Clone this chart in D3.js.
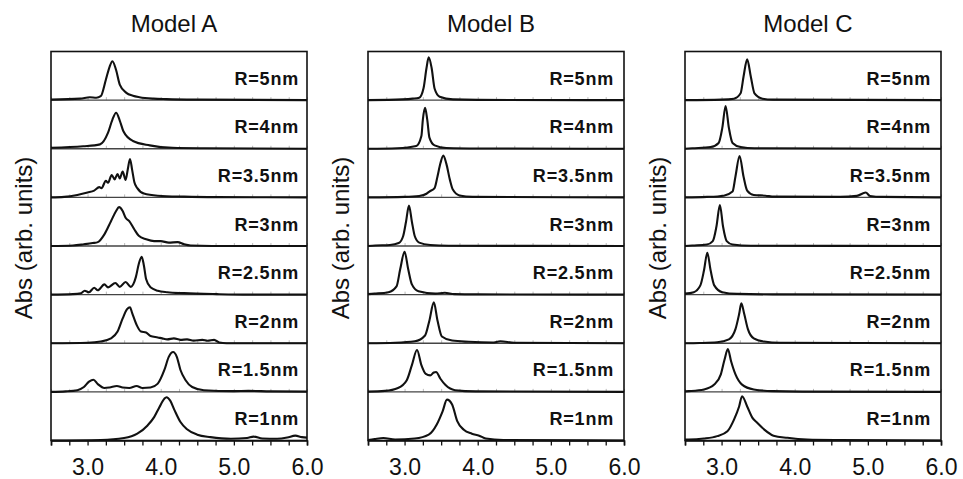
<!DOCTYPE html>
<html>
<head>
<meta charset="utf-8">
<script src="https://cdn.jsdelivr.net/npm/d3@7/dist/d3.min.js"></script>
<style>
  html, body { margin: 0; padding: 0; background: #fff; }
  svg { display: block; }
  text { font-family: "Liberation Sans", Arial, Helvetica, sans-serif; fill: #111; }
</style>
</head>
<body>
<svg id="chart" width="963" height="479"></svg>
<script>
// ---- Panel titles, row labels and axis labels ----
const modelTitles = ["Model A", "Model B", "Model C"];
const radiusLabels = ["R=5nm", "R=4nm", "R=3.5nm", "R=3nm", "R=2.5nm", "R=2nm", "R=1.5nm", "R=1nm"];
const xTickLabels = [3.0, 4.0, 5.0, 6.0];
const yAxisTitle = "Abs (arb. units)";

// ---- Absorption spectra: [energy (eV), normalised absorbance] ----
// Model A
const specA_5nm = [[2.5,0.01],[2.9,0.03],[3.03,0.06],[3.12,0.05],[3.18,0.08],[3.25,0.42],[3.30,0.68],[3.34,0.80],[3.39,0.62],[3.44,0.32],[3.53,0.15],[3.62,0.09],[3.71,0.06],[3.9,0.03],[4.08,0.02],[4.5,0.01],[6.0,0.0]];
const specA_4nm = [[2.5,0.02],[2.94,0.05],[3.17,0.09],[3.28,0.33],[3.34,0.60],[3.39,0.74],[3.44,0.58],[3.49,0.36],[3.62,0.16],[3.85,0.07],[4.16,0.02],[4.6,0.01],[6.0,0.0]];
const specA_35nm = [[2.5,0.0],[2.68,0.01],[2.86,0.05],[3.0,0.10],[3.09,0.14],[3.16,0.21],[3.19,0.19],[3.25,0.34],[3.28,0.30],[3.33,0.46],[3.37,0.37],[3.41,0.48],[3.44,0.39],[3.48,0.53],[3.52,0.36],[3.55,0.58],[3.58,0.79],[3.61,0.56],[3.64,0.31],[3.68,0.19],[3.77,0.08],[3.96,0.035],[4.32,0.015],[4.77,0.005],[6.0,0.0]];
const specA_3nm = [[2.5,0.0],[2.8,0.01],[2.95,0.035],[3.07,0.06],[3.14,0.08],[3.23,0.24],[3.32,0.51],[3.39,0.72],[3.43,0.80],[3.48,0.72],[3.52,0.58],[3.57,0.51],[3.64,0.34],[3.70,0.21],[3.80,0.14],[3.91,0.10],[4.0,0.10],[4.11,0.07],[4.23,0.08],[4.32,0.035],[4.41,0.01],[4.7,0.0],[6.0,0.0]];
const specA_25nm = [[2.5,0.0],[2.8,0.01],[2.91,0.03],[2.96,0.08],[3.02,0.05],[3.09,0.14],[3.14,0.09],[3.23,0.21],[3.28,0.15],[3.38,0.24],[3.44,0.16],[3.52,0.26],[3.59,0.16],[3.66,0.36],[3.70,0.63],[3.74,0.78],[3.77,0.60],[3.80,0.32],[3.86,0.15],[3.96,0.08],[4.09,0.05],[4.32,0.03],[4.77,0.01],[5.2,0.0],[6.0,0.0]];
const specA_2nm = [[2.5,0.0],[3.0,0.01],[3.18,0.035],[3.32,0.10],[3.41,0.24],[3.48,0.51],[3.54,0.70],[3.58,0.74],[3.61,0.62],[3.67,0.38],[3.73,0.24],[3.80,0.22],[3.86,0.15],[3.96,0.12],[4.02,0.10],[4.09,0.08],[4.18,0.10],[4.27,0.07],[4.36,0.08],[4.45,0.055],[4.57,0.07],[4.64,0.05],[4.73,0.07],[4.80,0.015],[4.9,0.0],[6.0,0.0]];
const specA_15nm = [[2.5,0.0],[2.7,0.01],[2.86,0.035],[2.95,0.10],[3.02,0.21],[3.08,0.25],[3.14,0.16],[3.23,0.08],[3.30,0.09],[3.40,0.12],[3.48,0.09],[3.57,0.08],[3.67,0.12],[3.75,0.08],[3.86,0.09],[3.96,0.17],[4.05,0.45],[4.11,0.72],[4.17,0.82],[4.22,0.72],[4.27,0.45],[4.34,0.24],[4.43,0.10],[4.59,0.035],[5.0,0.015],[5.2,0.02],[5.5,0.01],[6.0,0.005]];
const specA_1nm = [[2.5,0.0],[3.18,0.01],[3.5,0.05],[3.68,0.14],[3.82,0.31],[3.91,0.48],[3.98,0.68],[4.05,0.86],[4.08,0.89],[4.13,0.82],[4.19,0.62],[4.27,0.38],[4.36,0.23],[4.50,0.12],[4.68,0.07],[4.96,0.035],[5.18,0.05],[5.27,0.08],[5.39,0.04],[5.59,0.035],[5.73,0.06],[5.84,0.10],[5.93,0.07],[6.0,0.06]];
// Model B
const specB_5nm = [[2.5,0.0],[2.97,0.015],[3.11,0.03],[3.20,0.05],[3.26,0.25],[3.30,0.66],[3.33,0.88],[3.37,0.66],[3.41,0.24],[3.48,0.07],[3.66,0.015],[4.0,0.005],[6.0,0.0]];
const specB_4nm = [[2.5,0.0],[2.9,0.01],[3.16,0.055],[3.23,0.26],[3.25,0.60],[3.28,0.84],[3.31,0.60],[3.34,0.23],[3.41,0.07],[3.57,0.015],[4.0,0.005],[6.0,0.0]];
const specB_35nm = [[2.5,0.0],[3.0,0.01],[3.20,0.03],[3.30,0.075],[3.34,0.12],[3.41,0.19],[3.45,0.43],[3.49,0.70],[3.53,0.86],[3.57,0.70],[3.62,0.36],[3.66,0.16],[3.75,0.04],[3.93,0.01],[6.0,0.0]];
const specB_3nm = [[2.5,0.0],[2.6,0.01],[2.80,0.02],[2.92,0.06],[2.98,0.20],[3.02,0.50],[3.06,0.83],[3.10,0.50],[3.14,0.20],[3.20,0.07],[3.35,0.02],[3.6,0.005],[6.0,0.0]];
const specB_25nm = [[2.5,0.01],[2.59,0.02],[2.78,0.05],[2.89,0.17],[2.94,0.52],[3.0,0.88],[3.05,0.52],[3.10,0.21],[3.19,0.07],[3.42,0.02],[3.55,0.04],[3.68,0.01],[4.0,0.005],[6.0,0.0]];
const specB_2nm = [[2.5,0.0],[2.87,0.01],[3.14,0.04],[3.28,0.16],[3.34,0.47],[3.40,0.84],[3.45,0.47],[3.51,0.14],[3.65,0.055],[3.88,0.03],[4.2,0.015],[4.31,0.04],[4.5,0.01],[6.0,0.0]];
const specB_15nm = [[2.5,0.005],[2.73,0.02],[2.91,0.08],[3.03,0.24],[3.10,0.55],[3.17,0.86],[3.23,0.55],[3.29,0.37],[3.35,0.34],[3.40,0.40],[3.43,0.41],[3.49,0.27],[3.56,0.14],[3.69,0.035],[3.97,0.01],[6.0,0.0]];
const specB_1nm = [[2.5,0.01],[2.59,0.03],[2.71,0.05],[2.87,0.02],[3.14,0.04],[3.33,0.12],[3.44,0.33],[3.52,0.60],[3.58,0.84],[3.65,0.74],[3.72,0.40],[3.81,0.22],[3.92,0.14],[4.02,0.10],[4.11,0.04],[4.35,0.01],[6.0,0.0]];
// Model C
const specC_5nm = [[2.5,0.0],[3.0,0.01],[3.17,0.03],[3.26,0.14],[3.30,0.48],[3.35,0.84],[3.40,0.48],[3.45,0.14],[3.56,0.03],[3.7,0.01],[6.0,0.0]];
const specC_4nm = [[2.5,0.0],[2.6,0.01],[2.85,0.035],[2.96,0.12],[3.01,0.43],[3.055,0.88],[3.10,0.43],[3.15,0.12],[3.26,0.035],[3.45,0.01],[6.0,0.0]];
const specC_35nm = [[2.5,0.0],[2.8,0.01],[3.03,0.035],[3.15,0.12],[3.19,0.43],[3.246,0.85],[3.30,0.43],[3.35,0.14],[3.44,0.05],[3.60,0.035],[3.72,0.015],[4.62,0.01],[4.85,0.03],[4.97,0.10],[5.03,0.03],[5.2,0.01],[6.0,0.0]];
const specC_3nm = [[2.5,0.0],[2.6,0.01],[2.80,0.03],[2.88,0.10],[2.93,0.40],[2.977,0.84],[3.02,0.40],[3.07,0.10],[3.15,0.03],[3.4,0.005],[6.0,0.0]];
const specC_25nm = [[2.5,0.02],[2.62,0.05],[2.71,0.19],[2.76,0.50],[2.805,0.86],[2.85,0.50],[2.90,0.19],[3.01,0.05],[3.21,0.015],[3.7,0.005],[6.0,0.0]];
const specC_2nm = [[2.5,0.0],[2.7,0.005],[2.94,0.02],[3.10,0.08],[3.19,0.29],[3.24,0.60],[3.27,0.82],[3.31,0.60],[3.36,0.29],[3.44,0.10],[3.58,0.035],[3.8,0.01],[6.0,0.0]];
const specC_15nm = [[2.5,0.01],[2.55,0.015],[2.76,0.05],[2.90,0.15],[2.99,0.36],[3.04,0.66],[3.086,0.88],[3.13,0.63],[3.19,0.36],[3.28,0.15],[3.44,0.05],[3.7,0.015],[4.1,0.005],[6.0,0.0]];
const specC_1nm = [[2.5,0.02],[2.55,0.02],[2.76,0.04],[2.94,0.09],[3.08,0.19],[3.17,0.43],[3.24,0.70],[3.28,0.91],[3.35,0.70],[3.42,0.47],[3.49,0.36],[3.58,0.23],[3.71,0.10],[3.90,0.055],[4.17,0.02],[4.6,0.01],[6.0,0.0]];

const modelA = [specA_5nm, specA_4nm, specA_35nm, specA_3nm, specA_25nm, specA_2nm, specA_15nm, specA_1nm];
const modelB = [specB_5nm, specB_4nm, specB_35nm, specB_3nm, specB_25nm, specB_2nm, specB_15nm, specB_1nm];
const modelC = [specC_5nm, specC_4nm, specC_35nm, specC_3nm, specC_25nm, specC_2nm, specC_15nm, specC_1nm];
const models = [modelA, modelB, modelC];

// ---- Layout ----
const svg = d3.select("#chart");
const panelLefts = [51, 368, 685];
const panelWidth = 256;
const panelTop = 51.5;
const panelBottom = 440.5;
const energyDomain = [2.5, 6.0];

const rowBand = d3.scaleBand()
  .domain(radiusLabels)
  .range([panelTop, panelBottom])
  .padding(0);

const line = d3.line().curve(d3.curveMonotoneX);

models.forEach((spectra, pi) => {
  const left = panelLefts[pi];
  const right = left + panelWidth;
  const x = d3.scaleLinear().domain(energyDomain).range([left, right]);
  const g = svg.append("g");

  // Title
  g.append("text")
    .attr("x", (left + right) / 2 - 5)
    .attr("y", 32)
    .attr("text-anchor", "middle")
    .style("font-size", "24px")
    .text(modelTitles[pi]);

  // Y-axis title
  const yTitleX = left - 19;
  const yTitleY = (panelTop + panelBottom) / 2 - 8;
  g.append("text")
    .attr("transform", `translate(${yTitleX},${yTitleY}) rotate(-90)`)
    .attr("text-anchor", "middle")
    .style("font-size", "24px")
    .text(yAxisTitle);

  // Rows
  radiusLabels.forEach((lab, ri) => {
    const top = rowBand(lab);
    const bottom = top + rowBand.bandwidth();
    const y = d3.scaleLinear().domain([0, 1]).range([bottom, top]);

    // faint per-row energy ticks on the separators
    if (ri < radiusLabels.length - 1) {
      g.append("g")
        .attr("transform", `translate(0,${bottom})`)
        .call(d3.axisTop(x).tickValues(d3.range(10, 25).map(i => i / 4)).tickSize(3).tickFormat(""))
        .call(a => a.select(".domain").remove())
        .call(a => a.selectAll("line").attr("stroke", "#bbb").attr("stroke-width", 1));

      g.append("line")
        .attr("x1", left).attr("x2", right)
        .attr("y1", bottom).attr("y2", bottom)
        .attr("stroke", "#444")
        .attr("stroke-width", 1.3);
    }

    g.append("path")
      .datum(spectra[ri])
      .attr("fill", "none")
      .attr("stroke", "#111")
      .attr("stroke-width", 2.1)
      .attr("stroke-linejoin", "round")
      .attr("d", line.x(d => x(d[0])).y(d => y(d[1])));

    g.append("text")
      .attr("x", right - (pi === 0 ? 8 : 10))
      .attr("y", bottom - 15.5)
      .attr("text-anchor", "end")
      .style("font-size", "18px")
      .style("font-weight", "bold")
      .style("letter-spacing", "0.8px")
      .text(lab);
  });

  // Frame
  g.append("rect")
    .attr("x", left).attr("y", panelTop)
    .attr("width", panelWidth).attr("height", panelBottom - panelTop)
    .attr("fill", "none")
    .attr("stroke", "#111")
    .attr("stroke-width", 1.6);

  // Bottom energy axis
  const axis = g.append("g")
    .attr("transform", `translate(0,${panelBottom})`)
    .call(d3.axisBottom(x)
      .tickValues(d3.range(10, 25).map(i => i / 4))
      .tickSize(5)
      .tickFormat(d => xTickLabels.includes(d) ? d.toFixed(1) : ""));
  axis.select(".domain").attr("stroke", "#111").attr("stroke-width", 1.6);
  axis.selectAll(".tick line").attr("stroke", "#111").attr("stroke-width", 1.3);
  axis.selectAll(".tick text")
    .attr("y", 18)
    .attr("dy", "0.71em")
    .style("font-size", "23px")
    .style("font-family", "'Liberation Sans', Arial, sans-serif")
    .attr("fill", "#111");
});
</script>
</body>
</html>
